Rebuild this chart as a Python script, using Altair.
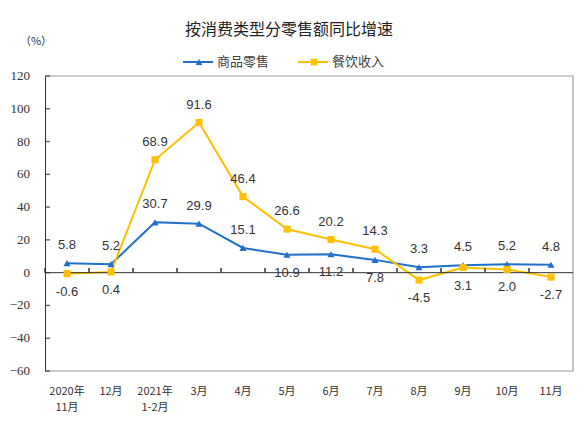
import altair as alt
import pandas as pd

months = ["2020年\n11月", "12月", "2021年\n1-2月", "3月", "4月", "5月",
          "6月", "7月", "8月", "9月", "10月", "11月"]
retail = [5.8, 5.2, 30.7, 29.9, 15.1, 10.9, 11.2, 7.8, 3.3, 4.5, 5.2, 4.8]
catering = [-0.6, 0.4, 68.9, 91.6, 46.4, 26.6, 20.2, 14.3, -4.5, 3.1, 2.0, -2.7]
# which side of the point each value label sits on
retail_side = ["above"] * 5 + ["below"] * 3 + ["above"] * 4
catering_side = ["below"] * 2 + ["above"] * 6 + ["below"] * 4
y_ticks = [-60, -40, -20, 0, 20, 40, 60, 80, 100, 120]

names = ["商品零售", "餐饮收入"]
colors = ["#1F6FCC", "#FFC000"]
shapes = ["triangle-up", "square"]

rows = []
for m, v, s in zip(months, retail, retail_side):
    rows.append({"month": m, "series": names[0], "value": v, "side": s})
for m, v, s in zip(months, catering, catering_side):
    rows.append({"month": m, "series": names[1], "value": v, "side": s})
df = pd.DataFrame(rows)
df["label"] = df["value"].map(lambda v: f"{v:.1f}")

x_axis = alt.Axis(
    title=None, labelAngle=0, ticks=False, domain=False, labelPadding=14,
    labelFont="Noto Sans CJK SC", labelFontSize=11, labelColor="#333333",
    labelLineHeight=16, labelExpr="split(datum.label, '\\n')",
)
x_scale = alt.Scale(type="band", paddingInner=0, paddingOuter=0)
x_enc = alt.X("month:N", sort=months, scale=x_scale, axis=x_axis)
# y labels are drawn as text below, the axis only gives the black left edge
y_enc = alt.Y(
    "value:Q",
    scale=alt.Scale(domain=[-60, 120], nice=False),
    axis=alt.Axis(title=None, values=y_ticks, ticks=False, grid=False, labels=False,
                  domainColor="#333333"),
)
color_enc = alt.Color("series:N", scale=alt.Scale(domain=names, range=colors), legend=None)

base = alt.Chart(df)

lines = base.mark_line(strokeWidth=2).encode(x=x_enc, y=y_enc, color=color_enc)
points = base.mark_point(filled=True, size=50, opacity=1).encode(
    x=x_enc, y=y_enc, color=color_enc,
    shape=alt.Shape("series:N", scale=alt.Scale(domain=names, range=shapes), legend=None),
)
label_style = dict(font="Liberation Sans", fontSize=13, color="#333333")
labels_up = base.mark_text(dy=-18, **label_style).encode(
    x=x_enc, y=y_enc, text="label:N"
).transform_filter(alt.datum.side == "above")
labels_down = base.mark_text(dy=18, **label_style).encode(
    x=x_enc, y=y_enc, text="label:N"
).transform_filter(alt.datum.side == "below")

# grey frame on top, right and bottom of the plot
one = pd.DataFrame({"k": [0]})
frame_style = dict(color="#999999", strokeWidth=1.2)
frame = (
    alt.Chart(one).mark_rule(**frame_style).encode(x=alt.value(0), x2=alt.value(528), y=alt.value(0))
    + alt.Chart(one).mark_rule(**frame_style).encode(x=alt.value(0), x2=alt.value(528), y=alt.value(295))
    + alt.Chart(one).mark_rule(**frame_style).encode(x=alt.value(528), y=alt.value(0), y2=alt.value(295))
)
zero = alt.Chart(pd.DataFrame({"value": [0]})).mark_rule(color="#333333").encode(y=y_enc)
x_ticks = alt.Chart(pd.DataFrame({"month": months})).mark_rule(
    color="#333333", strokeWidth=1.5
).encode(
    x=alt.X("month:N", sort=months, scale=x_scale, axis=x_axis, bandPosition=0),
    y=alt.datum(0), y2=alt.datum(2.8),
)
tick_df = pd.DataFrame({"value": y_ticks})
y_tick_marks = alt.Chart(tick_df).mark_tick(
    orient="horizontal", size=5, thickness=1.5, color="#333333"
).encode(y=y_enc, x=alt.value(2.5))
y_labels = alt.Chart(tick_df).mark_text(
    font="Liberation Serif", fontSize=13, color="#333333", align="right", baseline="middle"
).encode(y=y_enc, x=alt.value(-15), text="value:Q")

title = alt.Chart(one).mark_text(
    font="Noto Sans CJK SC", fontSize=16, color="#222222", align="center"
).encode(x=alt.value(244), y=alt.value(-46), text=alt.value("按消费类型分零售额同比增速"))
unit = alt.Chart(one).mark_text(
    font="Noto Sans CJK SC", fontSize=11, color="#333333", align="center"
).encode(x=alt.value(-9), y=alt.value(-34), text=alt.value("（%）"))


def legend_item(name, color, shape, x0):
    line = alt.Chart(one).mark_rule(color=color, strokeWidth=2).encode(
        x=alt.value(x0), x2=alt.value(x0 + 30), y=alt.value(-14)
    )
    mark = alt.Chart(one).mark_point(filled=True, size=45, opacity=1, shape=shape, color=color).encode(
        x=alt.value(x0 + 16), y=alt.value(-14)
    )
    text = alt.Chart(one).mark_text(
        font="Noto Sans CJK SC", fontSize=13, color="#404040", align="left"
    ).encode(x=alt.value(x0 + 34), y=alt.value(-14), text=alt.value(name))
    return line + mark + text


legend = legend_item(names[0], colors[0], shapes[0], 138) + legend_item(names[1], colors[1], shapes[1], 253)

chart = (
    alt.layer(lines, frame, zero, x_ticks, y_tick_marks, y_labels, points, labels_up, labels_down,
              title, unit, legend)
    .properties(
        width=528, height=295,
        autosize=alt.AutoSizeParams(type="none"),
        padding={"left": 37, "top": 68, "right": 7, "bottom": 42},
    )
    .configure_view(stroke=None)
)

chart.save("out.html", embed_options={"renderer": "svg", "actions": False})
